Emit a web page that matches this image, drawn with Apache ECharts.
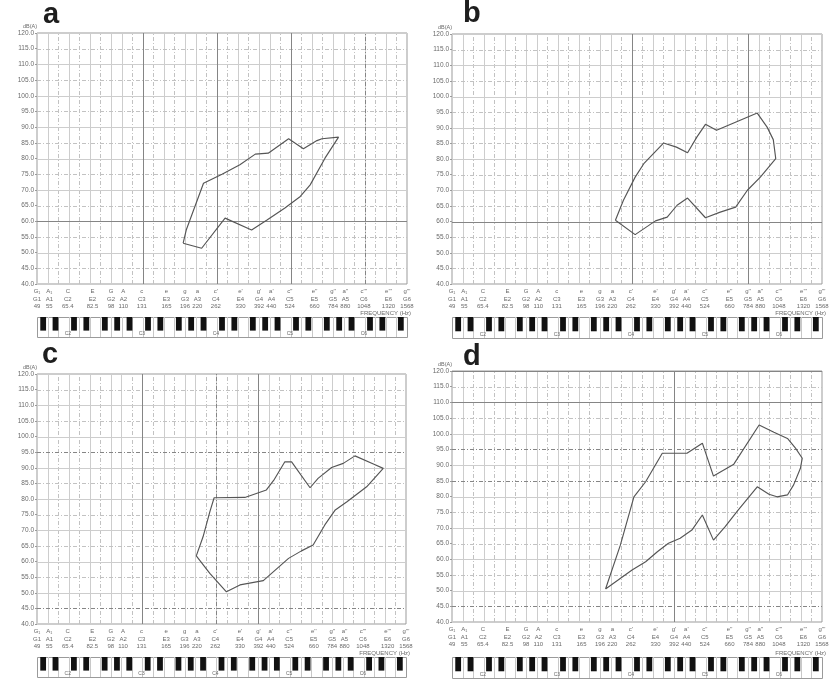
<!DOCTYPE html>
<html>
<head>
<meta charset="utf-8">
<script src="https://cdn.jsdelivr.net/npm/echarts@6/dist/echarts.min.js"></script>
<style>
html,body{margin:0;padding:0;background:#fff;}
#chart{width:833px;height:679px;}
</style>
</head>
<body>
<div id="chart"></div>
<script>
// ---------- axis / keyboard data ----------
// x positions are semitones above G1 (49 Hz), axis spans G1..G6
const noteSemitones = [0,2,5,9,12,14,17,21,24,26,29,33,36,38,41,45,48,50,53,57,60];
const noteGerman = ['G\u2081','A\u2081','C','E','G','A','c','e','g','a',"c'","e'","g'","a'","c''","e''","g''","a''","c'''","e'''","g'''"];
const noteScientific = ['G1','A1','C2','E2','G2','A2','C3','E3','G3','A3','C4','E4','G4','A4','C5','E5','G5','A5','C6','E6','G6'];
const noteFrequency = ['49','55','65.4','82.5','98','110','131','165','196','220','262','330','392','440','524','660','784','880','1048','1320','1568'];
const blackKeySemitones = [1,3,6,8,11,13,15,18,20,23,25,27,30,32,35,37,39,42,44,47,49,51,54,56,59];
const octaveLabels = ['C2','C3','C4','C5','C6'];
const octaveSemitones = [5,17,29,41,53];
const levelMin = 40, levelMax = 120, levelStep = 5;

// ---------- voice range profiles (semitones above G1, dB(A)) ----------
const aPitch = [23.7,24.2,27.0,30.0,32.9,35.4,37.5,40.8,43.2,45.4,46.2,48.9,46.7,44.3,42.7,40.2,37.3,34.8,30.5,26.7];
const aLevel = [53.0,57.2,72.1,75.0,78.0,81.4,81.7,86.3,83.1,85.7,86.3,86.8,80.1,71.6,67.9,64.2,60.4,57.2,61.0,51.4];

const bPitch = [26.5,27.8,29.7,31.1,34.3,36.4,38.2,39.7,41.1,42.9,45.2,49.5,51.1,52.1,52.5,50.0,47.9,46.0,43.5,41.1,38.2,36.5,34.9,33.0,29.7];
const bLevel = [60.4,66.8,74.2,78.5,85.1,83.8,82.0,87.0,91.1,89.2,91.1,94.7,90.2,86.2,80.1,74.2,70.0,64.6,63.0,61.2,67.5,65.2,61.4,60.2,55.8];

const cPitch = [25.9,27.0,28.1,28.8,33.8,37.3,38.6,40.3,41.4,44.4,45.7,47.9,49.8,51.7,54.7,56.3,53.6,50.4,48.5,46.8,44.9,43.0,40.9,36.8,33.0,30.8,28.1];
const cLevel = [61.8,67.9,75.9,80.4,80.5,82.9,86.3,91.9,91.9,83.6,86.6,90.1,91.4,93.8,91.2,89.8,83.9,79.1,76.5,71.7,65.3,63.4,61.0,53.9,52.5,50.3,56.2];

const dPitch = [24.9,27.3,29.5,31.4,34.1,38.1,40.6,42.4,45.7,49.8,52.2,54.4,55.7,56.8,56.5,55.4,54.4,52.7,51.4,49.5,46.2,44.3,42.4,40.6,38.9,37.0,35.1,33.3,31.4,29.2];
const dLevel = [50.5,64.5,79.9,84.7,93.8,93.8,97.0,86.5,90.3,102.8,100.5,98.5,95.4,92.2,89.0,83.7,80.5,79.9,80.7,83.1,75.2,70.4,66.1,74.1,69.3,66.7,65.1,62.4,59.2,56.6];

// ---------- layout ----------
const FONT = '"Liberation Sans", Arial, sans-serif';
const layout = [
  {left:37,  top:33,  width:370, height:251, kbTop:317, kbH:20, letterX:43,  letterY:0},
  {left:452, top:34,  width:370, height:250, kbTop:317, kbH:21, letterX:463, letterY:-1},
  {left:37,  top:374, width:369, height:250, kbTop:657, kbH:20, letterX:42,  letterY:340},
  {left:452, top:371, width:370, height:251, kbTop:657, kbH:21, letterX:463, letterY:342}
];
const panels = [
  {letter:'a', pitch:aPitch, level:aLevel,
   darkV:[{k:10,dash:false},{k:17,dash:false},{k:24,dash:false},{k:31,dash:true}],
   darkH:[{v:60,dash:false}]},
  {letter:'b', pitch:bPitch, level:bLevel,
   darkV:[{k:17,dash:false},{k:28,dash:false}],
   darkH:[{v:60,dash:false}]},
  {letter:'c', pitch:cPitch, level:cLevel,
   darkV:[{k:10,dash:false},{k:17,dash:true},{k:21,dash:false}],
   darkH:[{v:95,dash:true},{v:45,dash:true}]},
  {letter:'d', pitch:dPitch, level:dLevel,
   darkV:[{k:21,dash:false}],
   darkH:[{v:120,dash:false},{v:110,dash:false},{v:95,dash:true},{v:85,dash:true},{v:45,dash:true}]}
];

const WHITE_KEYS = 35;            // white keys across G1..G6
const whiteStep = 60 / WHITE_KEYS;
const LIGHT = '#cdcdcd', LIGHT_D = '#c2c2c2', DARK = '#858585';
const DASH = [4,2,1,2];

const grids = [], xAxes = [], yAxes = [], series = [], graphics = [];

panels.forEach((p, i) => {
  const L = layout[i];
  grids.push({left:L.left, top:L.top, width:L.width, height:L.height, show:true,
              borderColor:'#9a9a9a', borderWidth:1, backgroundColor:'transparent'});
  xAxes.push({type:'value', gridIndex:i, min:0, max:60, interval:1,
    axisLine:{show:false}, axisTick:{show:false}, splitLine:{show:false},
    axisLabel:{margin:4, fontSize:6, lineHeight:7.5, color:'#6a6a6a', fontFamily:FONT,
      formatter: v => { const k = noteSemitones.indexOf(Math.round(v));
        return (k < 0 || Math.abs(v - Math.round(v)) > 1e-6) ? '' :
          noteGerman[k] + '\n' + noteScientific[k] + '\n' + noteFrequency[k]; }}});
  yAxes.push({type:'value', gridIndex:i, min:levelMin, max:levelMax, interval:levelStep,
    axisLine:{show:false}, splitLine:{show:false},
    axisTick:{show:true, length:2, lineStyle:{color:'#9a9a9a'}},
    axisLabel:{margin:3, fontSize:6.5, color:'#6a6a6a', fontFamily:FONT, formatter: v => v.toFixed(1)},
    name:'dB(A)', nameLocation:'end', nameGap:3,
    nameTextStyle:{fontSize:5.5, color:'#6a6a6a', fontFamily:FONT, align:'right', padding:[0,0,0,0]}});

  // grid lines
  const lines = [];
  for (let k = 0; k <= WHITE_KEYS; k++) {
    const r = k % 7; // 0 G,1 A,2 B,3 C,4 D,5 E,6 F
    const solid = (r === 0 || r === 1 || r === 3 || r === 5);
    lines.push({dir:'v', v:k*whiteStep, color: solid ? LIGHT : LIGHT_D, dash: !solid});
  }
  for (let v = levelMin; v <= levelMax; v += levelStep) {
    const solid = (v % 10 === 0);
    lines.push({dir:'h', v:v, color: solid ? LIGHT : LIGHT_D, dash: !solid});
  }
  p.darkV.forEach(d => lines.push({dir:'v', v:d.k*whiteStep, color:DARK, dash:d.dash}));
  p.darkH.forEach(d => lines.push({dir:'h', v:d.v, color:DARK, dash:d.dash}));
  series.push({type:'custom', xAxisIndex:i, yAxisIndex:i, silent:true, z:1,
    data: lines.map(() => [30, 80]),
    renderItem: (params, api) => {
      const l = lines[params.dataIndex];
      const a = l.dir === 'v' ? api.coord([l.v, levelMin]) : api.coord([0, l.v]);
      const b = l.dir === 'v' ? api.coord([l.v, levelMax]) : api.coord([60, l.v]);
      let x1=a[0], y1=a[1], x2=b[0], y2=b[1];
      if (l.dir === 'v') { x1 = x2 = Math.round(x1) + 0.5; } else { y1 = y2 = Math.round(y1) + 0.5; }
      return {type:'line', shape:{x1, y1, x2, y2},
        style:{stroke:l.color, lineWidth:1, lineDash: l.dash ? DASH : null}};
    }});

  // profile polygon (closed)
  const pts = p.pitch.map((s, j) => [s, p.level[j]]);
  pts.push(pts[0]);
  series.push({type:'line', xAxisIndex:i, yAxisIndex:i, data:pts, showSymbol:false, symbol:'none',
    z:5, silent:true, lineStyle:{color:'#555555', width:1.15}, animation:false});

  // panel letter, frequency caption
  graphics.push({type:'text', x:L.letterX, y:L.letterY, z:10,
    style:{text:p.letter, font:'bold 29px ' + FONT, fill:'#1e1e1e'}});
  graphics.push({type:'text', x:L.left + L.width + 4, y:L.kbTop - 7, z:10,
    style:{text:'FREQUENCY (Hz)', font:'6px ' + FONT, fill:'#6a6a6a', align:'right'}});
});

// keyboards
layout.forEach((L, i) => {
  const gi = 4 + i;
  grids.push({left:L.left, top:L.kbTop, width:L.width, height:L.kbH, show:false});
  xAxes.push({type:'value', gridIndex:gi, min:0, max:60, show:false});
  yAxes.push({type:'value', gridIndex:gi, min:0, max:1, show:false});
  // frame + white key separators
  const seps = [];
  for (let k = 1; k < WHITE_KEYS; k++) seps.push(k * whiteStep);
  series.push({type:'custom', xAxisIndex:gi, yAxisIndex:gi, silent:true, z:2,
    data:[[30,0.5]],
    renderItem: (params, api) => {
      const tl = api.coord([0,1]), br = api.coord([60,0]);
      const children = [{type:'rect', shape:{x:Math.round(tl[0])+0.5, y:Math.round(tl[1])+0.5,
          width:Math.round(br[0]-tl[0]), height:Math.round(br[1]-tl[1])},
          style:{fill:'#fff', stroke:'#9a9a9a', lineWidth:1}}];
      seps.forEach(s => { const a = api.coord([s,1]), b = api.coord([s,0]);
        const x = Math.round(a[0]) + 0.5;
        children.push({type:'line', shape:{x1:x, y1:a[1], x2:x, y2:b[1]},
          style:{stroke:'#c8c8c8', lineWidth:1}}); });
      return {type:'group', children};
    }});
  // black keys
  series.push({type:'custom', xAxisIndex:gi, yAxisIndex:gi, silent:true, z:3,
    data: blackKeySemitones.map(s => [s, 0.5]),
    renderItem: (params, api) => {
      const s = blackKeySemitones[params.dataIndex];
      const a = api.coord([s - 0.47, 1]), b = api.coord([s + 0.47, 0.32]);
      return {type:'rect', shape:{x:a[0], y:a[1], width:b[0]-a[0], height:b[1]-a[1]},
        style:{fill:'#111111'}};
    }});
  // octave labels
  series.push({type:'custom', xAxisIndex:gi, yAxisIndex:gi, silent:true, z:4,
    data: octaveSemitones.map(s => [s, 0.15]),
    renderItem: (params, api) => {
      const c = api.coord([octaveSemitones[params.dataIndex], 0.16]);
      return {type:'text', x:c[0], y:c[1],
        style:{text:octaveLabels[params.dataIndex], font:'5px ' + FONT, fill:'#6a6a6a',
               align:'center', verticalAlign:'middle'}};
    }});
});

const chart = echarts.init(document.getElementById('chart'), null, {renderer:'canvas', width:833, height:679});
chart.setOption({
  animation:false,
  backgroundColor:'#ffffff',
  grid:grids, xAxis:xAxes, yAxis:yAxes, series:series, graphic:graphics
});
</script>
</body>
</html>
